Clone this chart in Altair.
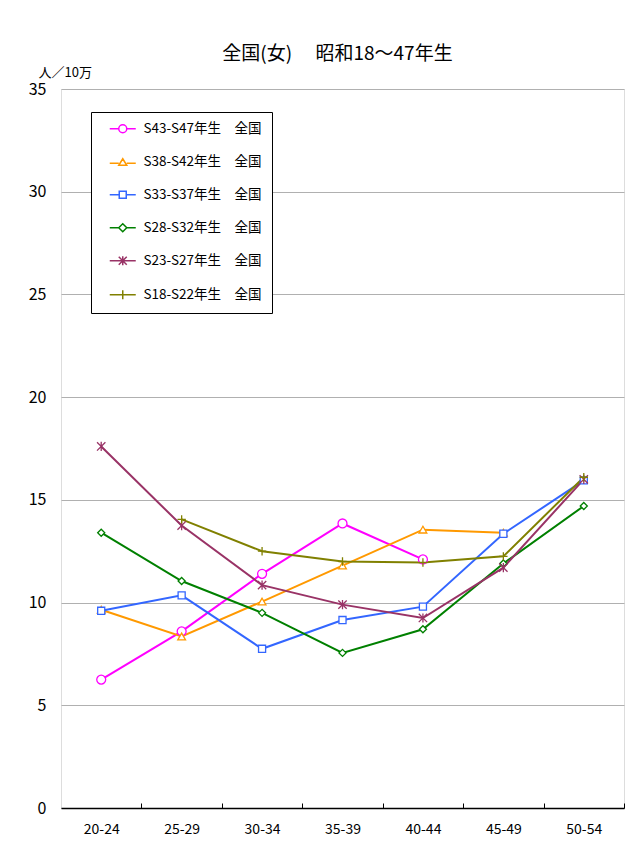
import altair as alt
import pandas as pd

ages = ["20-24", "25-29", "30-34", "35-39", "40-44", "45-49", "50-54"]
series_names = [
    "S43-S47年生　全国",
    "S38-S42年生　全国",
    "S33-S37年生　全国",
    "S28-S32年生　全国",
    "S23-S27年生　全国",
    "S18-S22年生　全国",
]
s43 = [6.25, 8.6, 11.4, 13.85, 12.1, None, None]
s38 = [9.65, 8.35, 10.05, 11.8, 13.55, 13.4, None]
s33 = [9.6, 10.35, 7.75, 9.15, 9.8, 13.35, 15.95]
s28 = [13.4, 11.05, 9.5, 7.55, 8.7, 11.9, 14.7]
s23 = [17.6, 13.75, 10.85, 9.9, 9.25, 11.7, 16.0]
s18 = [None, 14.05, 12.5, 12.0, 11.95, 12.25, 16.1]
all_values = [s43, s38, s33, s28, s23, s18]

colors = ["#FF00FF", "#FF9900", "#3366FF", "#008000", "#993366", "#808000"]
marker_shapes = [
    "circle",
    "triangle-up",
    "square",
    "diamond",
    "M-1,-1L1,1M1,-1L-1,1M0,-1.1V1.1",
    "M-1,0H1M0,-1V1",
]
marker_sizes = [80, 60, 50, 50, 70, 70]
legend_paths = [
    "M-2.6,0H-0.8M0.8,0H2.6M0.8,0A0.8,0.8,0,1,1,-0.8,0A0.8,0.8,0,1,1,0.8,0",
    "M-2.6,0.3H-0.8M0.8,0.3H2.6M0,-0.6L0.8,0.7L-0.8,0.7Z",
    "M-2.6,0H-0.7M0.7,0H2.6M-0.7,-0.7H0.7V0.7H-0.7Z",
    "M-2.6,0H-0.8M0.8,0H2.6M0,-0.8L0.8,0L0,0.8L-0.8,0Z",
    "M-2.6,0H2.6M-0.8,-0.8L0.8,0.8M0.8,-0.8L-0.8,0.8M0,-0.9V0.9",
    "M-2.6,0H2.6M0,-0.9V0.9",
]

rows = []
for name, vals in zip(series_names, all_values):
    for a, v in zip(ages, vals):
        if v is not None:
            rows.append({"age": a, "series": name, "value": v})
df = pd.DataFrame(rows)

FONT = "Noto Sans CJK JP"

xscale = alt.Scale(domain=ages, type="point", padding=0.5)
yscale = alt.Scale(domain=[0, 35], nice=False)
cscale = alt.Scale(domain=series_names, range=colors)

main_x_axis = alt.Axis(
    title=None, orient="bottom", domainColor="black", domainWidth=1.5,
    ticks=False, labelFont=FONT, labelFontSize=14, labelColor="black",
    labelPadding=14, labelAngle=0, grid=False,
)
tick_x_axis = alt.Axis(
    title=None, orient="bottom", domain=False, labels=False, ticks=True,
    tickSize=5, tickColor="black", tickWidth=1, tickOffset=40.2, offset=-5, grid=False,
)
y_axis = alt.Axis(
    values=[0, 5, 10, 15, 20, 25, 30, 35], title="人／10万", titleAngle=0,
    titleX=-23, titleY=-17, titleAlign="left", titleBaseline="middle",
    titleFont=FONT, titleFontSize=13, titleFontWeight="normal", titleColor="black",
    labelFont=FONT, labelFontSize=16, labelColor="black", labelPadding=15,
    ticks=False, domain=False, grid=True, gridColor="#b0b0b0", gridWidth=1.2,
)

legend = alt.Legend(
    title=None, orient="none", legendX=30, legendY=23, direction="vertical",
    strokeColor="black", fillColor="white", padding=10, cornerRadius=0,
    symbolSize=100, symbolStrokeWidth=1.5, symbolOffset=15, labelOffset=14,
    labelFont=FONT, labelFontSize=13.5, labelColor="black", rowPadding=18,
    labelLimit=300,
)

base = alt.Chart(df)

lines = base.mark_line(strokeWidth=2).encode(
    x=alt.X("age:N", scale=xscale, axis=main_x_axis),
    y=alt.Y("value:Q", scale=yscale, axis=y_axis),
    color=alt.Color("series:N", scale=cscale, legend=legend),
    detail="series:N",
)

layers = [lines]
for name, shp, sz in zip(series_names, marker_shapes, marker_sizes):
    layers.append(
        base.transform_filter(alt.datum.series == name)
        .mark_point(shape=shp, size=sz, filled=False, fill="white", strokeWidth=1.3, opacity=1)
        .encode(
            x=alt.X("age:N", scale=xscale, axis=None),
            y=alt.Y("value:Q", scale=yscale, axis=y_axis),
            color=alt.Color("series:N", scale=cscale, legend=legend),
        )
    )

legend_layer = base.mark_point(size=0, filled=False, fill="white").encode(
    x=alt.X("age:N", scale=xscale, axis=tick_x_axis),
    y=alt.Y("value:Q", scale=yscale, axis=y_axis),
    color=alt.Color("series:N", scale=cscale, legend=legend),
    shape=alt.Shape("series:N", scale=alt.Scale(domain=series_names, range=legend_paths), legend=legend),
)
layers.append(legend_layer)

chart = (
    alt.layer(*layers)
    .resolve_axis(x="independent")
    .properties(
        width=563, height=719,
        title=alt.TitleParams(
            "全国(女)　 昭和18～47年生", font=FONT, fontSize=19, fontWeight="normal",
            color="black", anchor="middle", offset=2, dx=-5,
        ),
        autosize=alt.AutoSizeParams(type="none"),
        padding={"left": 53, "top": 81, "right": 8, "bottom": 34},
    )
    .configure_view(stroke="#a0a0a0", strokeWidth=1.2)
    .configure(background="white")
)

chart.save("out.html", embed_options={"renderer": "svg", "actions": False})
